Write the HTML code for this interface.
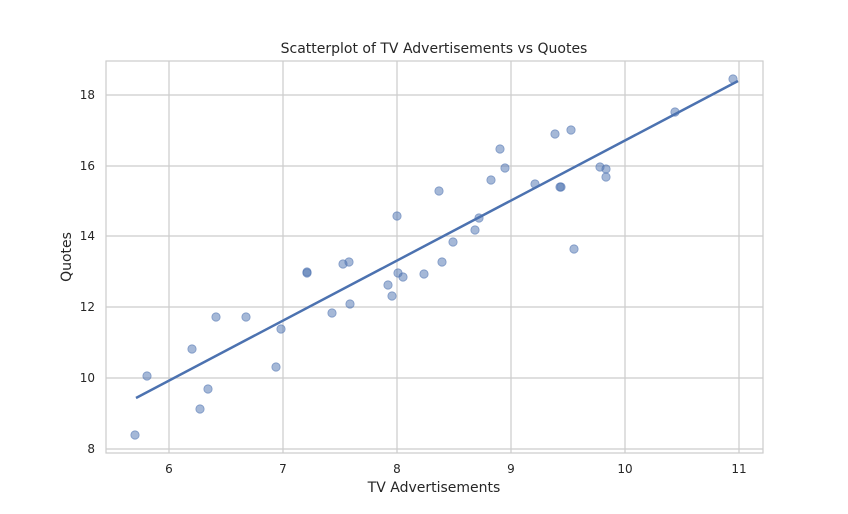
<!DOCTYPE html>
<html><head><meta charset="utf-8"><style>
body{margin:0;background:#fff;}
svg text{font-family:"DejaVu Sans","Liberation Sans",sans-serif;fill:#262626;}
</style></head><body>
<svg width="848" height="509" xmlns="http://www.w3.org/2000/svg">
<rect width="848" height="509" fill="#fff"/>
<g stroke="#cccccc" stroke-width="1.2">
<line x1="169" y1="61" x2="169" y2="453"/><line x1="283" y1="61" x2="283" y2="453"/>
<line x1="397" y1="61" x2="397" y2="453"/><line x1="511" y1="61" x2="511" y2="453"/>
<line x1="625" y1="61" x2="625" y2="453"/><line x1="739" y1="61" x2="739" y2="453"/>
<line x1="106" y1="95" x2="763" y2="95"/><line x1="106" y1="166" x2="763" y2="166"/>
<line x1="106" y1="236" x2="763" y2="236"/><line x1="106" y1="307" x2="763" y2="307"/>
<line x1="106" y1="378" x2="763" y2="378"/><line x1="106" y1="449" x2="763" y2="449"/>
<rect x="106" y="61" width="657" height="392" fill="none"/>
</g>
<g fill="#4c72b0" fill-opacity="0.5" stroke="#4c72b0" stroke-opacity="0.6" stroke-width="0.8">
<circle cx="135" cy="435" r="4.2"/><circle cx="147" cy="376" r="4.2"/><circle cx="192" cy="349" r="4.2"/>
<circle cx="200" cy="409" r="4.2"/><circle cx="208" cy="389" r="4.2"/><circle cx="216" cy="317" r="4.2"/>
<circle cx="246" cy="317" r="4.2"/><circle cx="276" cy="367" r="4.2"/><circle cx="281" cy="329" r="4.2"/>
<circle cx="307" cy="272" r="4.2"/><circle cx="307" cy="273" r="4.2"/><circle cx="332" cy="313" r="4.2"/>
<circle cx="343" cy="264" r="4.2"/><circle cx="349" cy="262" r="4.2"/><circle cx="350" cy="304" r="4.2"/>
<circle cx="388" cy="285" r="4.2"/><circle cx="392" cy="296" r="4.2"/><circle cx="397" cy="216" r="4.2"/>
<circle cx="398" cy="273" r="4.2"/><circle cx="403" cy="277" r="4.2"/><circle cx="424" cy="274" r="4.2"/>
<circle cx="439" cy="191" r="4.2"/><circle cx="442" cy="262" r="4.2"/><circle cx="453" cy="242" r="4.2"/>
<circle cx="475" cy="230" r="4.2"/><circle cx="479" cy="218" r="4.2"/><circle cx="491" cy="180" r="4.2"/>
<circle cx="500" cy="149" r="4.2"/><circle cx="505" cy="168" r="4.2"/><circle cx="535" cy="184" r="4.2"/>
<circle cx="555" cy="134" r="4.2"/><circle cx="560" cy="187" r="4.2"/><circle cx="561" cy="187" r="4.2"/>
<circle cx="571" cy="130" r="4.2"/><circle cx="574" cy="249" r="4.2"/><circle cx="600" cy="167" r="4.2"/>
<circle cx="606" cy="169" r="4.2"/><circle cx="606" cy="177" r="4.2"/><circle cx="675" cy="112" r="4.2"/>
<circle cx="733" cy="79" r="4.2"/>
</g>
<line x1="136" y1="398" x2="738" y2="81" stroke="#4c72b0" stroke-width="2.5"/>
<g font-size="12" text-anchor="middle">
<text x="169" y="473">6</text><text x="283" y="473">7</text><text x="397" y="473">8</text>
<text x="511" y="473">9</text><text x="625" y="473">10</text><text x="739" y="473">11</text>
</g>
<g font-size="12" text-anchor="end">
<text x="95" y="99">18</text><text x="95" y="170">16</text><text x="95" y="240">14</text>
<text x="95" y="311">12</text><text x="95" y="382">10</text><text x="95" y="453">8</text>
</g>
<text x="434" y="492" font-size="14" text-anchor="middle">TV Advertisements</text>
<text x="0" y="0" font-size="14" text-anchor="middle" transform="translate(71,257) rotate(-90)">Quotes</text>
<text x="434" y="53" font-size="14" text-anchor="middle">Scatterplot of TV Advertisements vs Quotes</text>
</svg>
</body></html>
